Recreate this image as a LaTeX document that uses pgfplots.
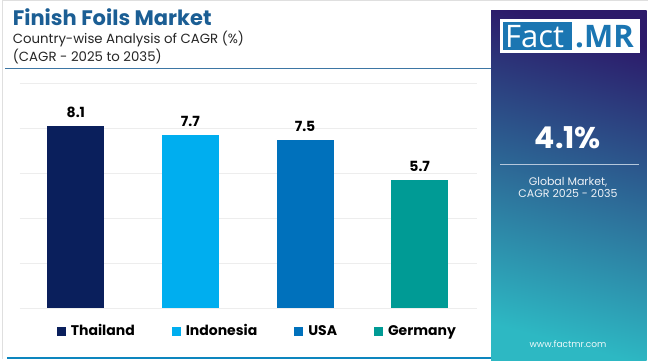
\documentclass[border=0pt]{standalone}
\usepackage{pgfplots}
\pgfplotsset{compat=1.18}
\usepackage{fontspec}
\setmainfont{Poppins}
\newfontfamily\logofont{Open Sans}
\definecolor{cThai}{HTML}{0A1F5C}
\definecolor{cIndo}{HTML}{00AEEF}
\definecolor{cUSA}{HTML}{0071BC}
\definecolor{cGer}{HTML}{009B95}
\definecolor{titleblue}{HTML}{1B5E94}
\definecolor{ptop}{HTML}{2C1A6A}
\definecolor{pmid}{HTML}{2B5E9C}
\definecolor{pbot}{HTML}{2DB8C3}
\definecolor{logoblue}{HTML}{1B76B2}
\begin{document}
\begin{tikzpicture}[x=1pt,y=1pt]
\useasboundingbox (0,0) rectangle (650,360);
\fill[white] (0,0) rectangle (650,360);
\draw[gray!25, line width=0.8pt] (2.5,1) -- (2.5,359.5) -- (647.5,359.5);
% panel
\shade[top color=ptop, middle color=pmid, bottom color=pbot, shading angle=-15] (491,0) rectangle (646.5,350);
% logo
\fill[white] (500,307) rectangle (640,341);
\fill[logoblue] (503,310) rectangle (572,338);
\node[anchor=base west, inner sep=0pt, text=white, font=\logofont\fontsize{31}{31}\selectfont] at (505,313) {Fact};
\node[anchor=base west, inner sep=0pt, text=logoblue, font=\logofont\bfseries\fontsize{31}{31}\selectfont] at (575,313) {.MR};
\node[anchor=base, inner sep=0pt, text=white, font=\bfseries\fontsize{30}{30}\selectfont] at (568,212) {4.1\%};
\draw[color=white!65!pmid, line width=1pt] (500,196) -- (639,196);
\node[anchor=base, inner sep=0pt, text=white!92!pmid, font=\fontsize{11}{11}\selectfont] at (568,175) {Global Market,};
\node[anchor=base, inner sep=0pt, text=white!92!pmid, font=\fontsize{11}{11}\selectfont] at (568,163) {CAGR 2025 - 2035};
\node[anchor=base, inner sep=0pt, text=white!92!pbot, font=\fontsize{9}{9}\selectfont] at (568,13) {www.factmr.com};
% titles
\node[anchor=base west, inner sep=0pt, text=titleblue, font=\bfseries\fontsize{21}{21}\selectfont] at (12.7,335) {Finish Foils Market};
\node[anchor=base west, inner sep=0pt, text=black!85, font=\fontsize{13.3}{13.3}\selectfont] at (12.7,316.7) {Country-wise Analysis of CAGR (\%)};
\node[anchor=base west, inner sep=0pt, text=black!85, font=\fontsize{13.3}{13.3}\selectfont] at (12.7,298.3) {(CAGR - 2025 to 2035)};
\draw[color=titleblue!85, line width=1pt] (5,292) -- (491,292);
\draw[color=cUSA!70!pbot, line width=1.5pt] (7,2) -- (491,2);
\begin{axis}[
  at={(20pt,51.7pt)}, anchor=south west,
  scale only axis, width=457pt, height=225pt,
  xmin=-0.487, xmax=3.5, ymin=0, ymax=10,
  ytick={0,2,4,6,8,10}, xtick=\empty,
  yticklabels={}, axis line style={draw=none},
  major tick length=0pt,
  ymajorgrids, grid style={color=black!7, line width=0.8pt},
  ybar, bar width=57pt, bar shift=0pt,
  nodes near coords,
  /pgf/number format/assume math mode=true,
  /pgf/number format/.cd, fixed, fixed zerofill, precision=1, /pgfplots/.cd,
  every node near coord/.append style={font=\bfseries\fontsize{14}{14}\selectfont, text=black, anchor=base, yshift=8.5pt},
  legend style={at={(0.5195,-0.101)}, anchor=center, draw=none, fill=none,
    font=\bfseries\fontsize{14}{14}\selectfont, legend columns=4,
    /tikz/every odd column/.append style={column sep=3pt},
    /tikz/every even column/.append style={column sep=35pt}},
  legend image code/.code={\fill[#1] (0pt,-4.5pt) rectangle (9pt,4.5pt);},
]
\addplot[fill=cThai, draw=none] coordinates {(0,8.1)};
\addplot[fill=cIndo, draw=none] coordinates {(1,7.7)};
\addplot[fill=cUSA, draw=none] coordinates {(2,7.5)};
\addplot[fill=cGer, draw=none] coordinates {(3,5.7)};
\legend{Thailand, Indonesia, USA, Germany}
\end{axis}
\end{tikzpicture}
\end{document}
